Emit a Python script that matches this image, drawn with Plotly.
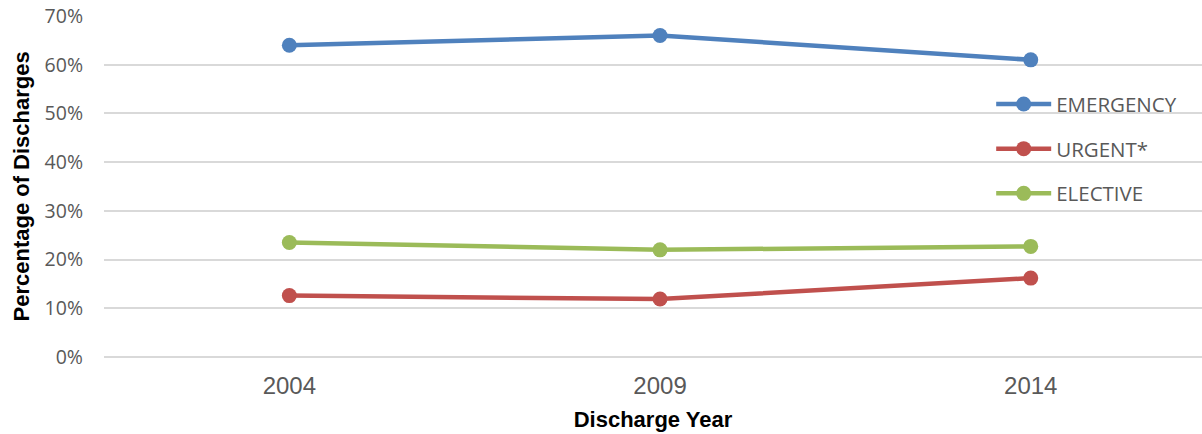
import plotly.graph_objects as go

# Discharge share by admission type, per discharge year
years = ["2004", "2009", "2014"]
emergency = [64.0, 66.0, 61.0]
urgent = [12.6, 11.9, 16.2]
elective = [23.5, 22.0, 22.7]

series_names = ["EMERGENCY", "URGENT*", "ELECTIVE"]
series_values = [emergency, urgent, elective]
series_colors = ["#4f81bd", "#c0504d", "#9bbb59"]

y_ticks = [0, 10, 20, 30, 40, 50, 60, 70]
y_tick_labels = ["0%", "10%", "20%", "30%", "40%", "50%", "60%", "70%"]

fig = go.Figure()
for name, vals, color in zip(series_names, series_values, series_colors):
    fig.add_trace(go.Scatter(
        x=years, y=vals, name=name, mode="lines+markers",
        legendgroup=name,
        line=dict(color=color, width=4.5),
        marker=dict(color=color, size=15),
        cliponaxis=False,
    ))

fig.update_layout(
    width=1202, height=434,
    margin=dict(l=104, r=0, t=16, b=77),
    paper_bgcolor="white", plot_bgcolor="white",
    showlegend=True,
    legend=dict(
        x=0.808, y=0.80, xanchor="left", yanchor="top",
        xref="paper", yref="paper",
        font=dict(family="Open Sans", size=20.5, color="#595959"),
        bgcolor="rgba(0,0,0,0)",
        traceorder="grouped", tracegroupgap=15,
        itemwidth=55,
    ),
    xaxis=dict(
        type="category", range=[-0.5, 2.462],
        showgrid=False, showline=False, ticks="",
        tickfont=dict(family="Liberation Sans", size=24, color="#595959"),
        ticklabelstandoff=12,
        title=dict(text="Discharge Year",
                   font=dict(family="Liberation Sans", size=22, color="black", weight="bold"),
                   standoff=13),
    ),
    yaxis=dict(
        range=[0, 70], tickvals=y_ticks, ticktext=y_tick_labels,
        showgrid=True, gridcolor="#d9d9d9", gridwidth=1.5,
        zeroline=True, zerolinecolor="#d9d9d9", zerolinewidth=1.5,
        showline=False, ticks="",
        tickfont=dict(family="Open Sans", size=19.5, color="#595959"),
        ticklabelstandoff=20,
    ),
    annotations=[dict(
        text="Percentage of Discharges", textangle=-90,
        xref="paper", yref="paper", x=0, y=0.5,
        xanchor="center", yanchor="middle", xshift=-83, showarrow=False,
        font=dict(family="Liberation Sans", size=22, color="black", weight="bold"),
    )],
)

fig.write_html("out.html")
